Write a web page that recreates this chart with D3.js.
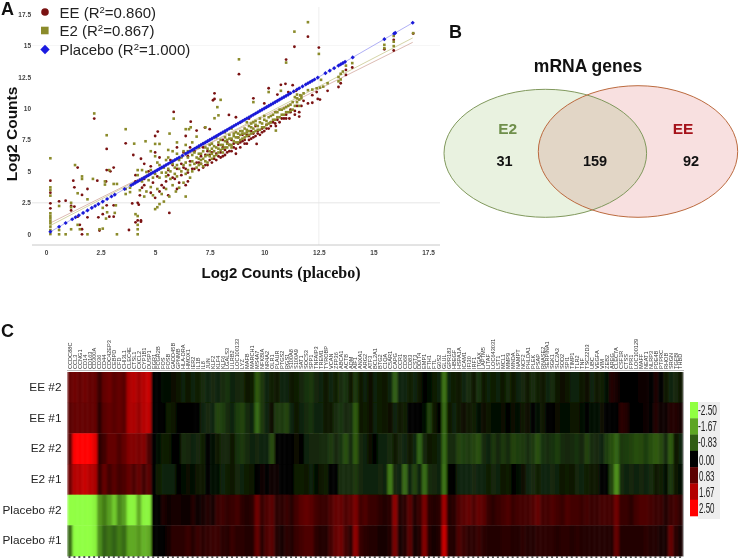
<!DOCTYPE html>
<html><head><meta charset="utf-8">
<script src="https://cdn.jsdelivr.net/npm/d3@7"></script>
<style>html,body{margin:0;background:#fff}svg{display:block;filter:blur(.3px)}text{font-family:"Liberation Sans",Arial,sans-serif}</style>
</head><body><svg id="c" width="739" height="558"></svg>
<script>
// ---------- Panel A data ----------
const scatterTicks=[0,2.5,5,7.5,10,12.5,15,17.5];
const placeboX=[.2,.6,.9,1.2,1.35,1.5,1.7,1.9,2.1,2.25,2.4,2.6,2.8,3,3.15,3.6,3.9,4,4.1,4.2,4.3,4.4,4.5,4.6,4.7,4.8,4.9,5,5.1,5.2,5.3,5.4,5.5,5.6,5.7,5.8,5.9,6,6.1,6.25,6.4,6.5,6.6,6.7,6.8,6.9,7,7.1,7.2,7.3,7.4,7.5,7.6,7.7,7.8,7.9,8,8.1,8.2,8.3,8.4,8.5,8.6,8.7,8.8,8.9,9,9.1,9.2,9.3,9.4,9.5,9.6,9.7,9.8,9.9,10,10.1,10.2,10.3,10.4,10.5,10.6,10.7,10.8,10.9,11,11.1,11.2,11.35,11.5,11.6,11.75,11.9,12,12.1,12.2,12.3,12.45,12.8,13,13.2,13.4,13.5,13.6,13.7,14.05,15.5,15.95,16,16.8];
const e2Points=[[.2,6.04],[.2,3.73],[.2,3.52],[.2,3.07],[.2,1.67],[.2,1.46],[.2,1.27],[.2,1.08],[.2,.87],[.2,.61],[.2,.34],[.2,.02],[.6,2.25],[.6,.34],[.6,0],[.9,0],[1.15,2.5],[1.15,2.15],[1.15,.4],[1.33,5.5],[1.45,3.26],[1.45,.75],[1.55,.4],[1.65,4.6],[1.65,4.4],[1.9,2.78],[1.9,0],[2.15,4.4],[2.7,4.2],[2.7,3.95],[2.45,.4],[2.6,.45],[2.6,2.1],[2.8,1.75],[2.75,1.25],[2.78,7.87],[2.9,5.1],[3.1,4],[3.25,4],[3.2,2.3],[3.15,1.7],[3.25,0],[2.21,9.6],[3.65,8.35],[3.65,3.6],[4.04,7.2],[3.85,3.7],[3.65,3.2],[3.85,3.35],[4.2,.4],[4.2,0],[4.2,.75],[4.1,1.6],[4.2,1.45],[4.56,7.39],[5,7.18],[5.2,7.18],[5.66,8],[5.85,9.19],[4.2,5.1],[4.4,5.1],[4.6,4.95],[4.8,5.1],[4.2,4.7],[5.1,5.7],[5,6.2],[4.8,6.6],[5,2],[5.2,2.4],[5.1,2.15],[5.4,2.6],[5.65,3],[5.95,3.4],[6.4,3],[4.6,3.4],[4.8,3.75],[5.2,4.5],[5.5,4.6],[5.7,5],[5.9,5.3],[6.1,5.2],[6.4,4.8],[5.2,5.5],[5.5,5.9],[5.6,6.1],[5.8,6.6],[6,6.4],[6.2,6.1],[6.4,8.35],[6.55,8.35],[6.63,8.5],[6.9,7.76],[6.4,7.1],[6.5,6.6],[6.7,5.8],[6.9,6.1],[7,6.4],[7.1,5.6],[7.2,6],[7.3,6.9],[7.4,6.3],[7.5,6.6],[7.6,6],[7.7,7],[7.72,9.22],[7.9,9.45],[8,10.68],[7.85,10.1],[7.9,6.8],[8,7.1],[8.1,6.5],[8.2,7.4],[8.3,6.9],[8.4,7.6],[8.5,7.1],[8.6,7.8],[8.7,7.3],[8.84,13.9],[8.8,8],[8.9,7.5],[9,8.2],[9.1,7.7],[9.2,8.3],[9.3,7.9],[9.4,8.5],[9.5,8.1],[9.5,10.5],[9.6,8.7],[9.7,8.3],[9.8,8.9],[9.9,8.5],[10,9.1],[10.1,8.7],[10.2,9.3],[10.2,11.3],[10.3,8.9],[10.4,9.5],[10.53,8.24],[10.5,9.1],[10.6,9.7],[10.7,9.3],[10.76,11.4],[10.8,9.9],[10.9,9.5],[11,10.1],[11,13.64],[11.1,9.7],[11.2,10.3],[11.3,9.9],[11.38,16.1],[11.4,10.9],[11.5,10.5],[11.5,11.1],[11.6,10.2],[11.7,10.8],[11.7,11],[11.8,11.2],[12,11.45],[12.2,11.5],[12.4,11.6],[12.55,11.65],[12.7,11.73],[12.6,12.27],[12.9,12],[13.4,12.5],[13.4,12.15],[13.5,12.3],[13.6,12.93],[13.5,12.75],[13.74,13.4],[14.03,13.6],[12.5,14.33],[12,16.85],[15.5,15.05],[15.5,14.78],[15.93,15.76],[15.93,15.3],[15.93,14.95],[16.82,15.98],[8.2,8.1],[8.5,8.4],[8.9,8.9],[9.2,8.9],[7.6,7.2],[7.2,7.2],[7.8,7.7],[6.7,7.3],[7.3,8.5]];
const e2Band=[[5.5,4.9],[5.6,5.2],[5.7,4.4],[5.8,5.6],[5.9,4.8],[6,5.5],[6,4.6],[6.1,5.9],[6.2,5],[6.3,5.5],[6.3,6.6],[6.4,5.7],[6.5,5.1],[6.5,6.1],[6.6,5.5],[6.7,6.3],[6.7,5],[6.8,5.6],[6.8,6.5],[6.9,5.3],[7,6],[7,5.5],[7,6.9],[7.1,6.4],[7.1,5.9],[7.2,6.6],[7.2,5.4],[7.3,6.2],[7.3,5.8],[7.4,6.8],[7.4,5.7],[7.5,7.1],[7.5,6.2],[7.6,6.8],[7.6,6.4],[7.7,6.2],[7.7,6.6],[7.8,6.9],[7.8,6.3],[7.9,7.3],[7.9,6.5],[8,6.7],[8,7.5],[8.1,7.1],[8.1,6.8],[8.2,6.9],[8.2,7.7],[8.3,7.5],[8.3,7.2],[8.4,7.1],[8.4,7.9],[8.5,7.6],[8.5,6.9],[8.6,7.4],[8.6,8],[8.7,7.7],[8.7,8.1],[8.8,7.3],[8.8,7.7],[8.9,8.2],[8.9,7.9],[9,7.6],[9,8],[9.1,8.4],[9.1,8],[9.2,7.8],[9.2,8.1],[9.3,8.6],[9.3,8.2],[9.4,8],[9.4,8.8],[9.5,8.4],[9.5,8.9],[9.6,8.2],[9.6,9],[9.7,8.6],[9.8,8.3],[9.8,9.2],[9.9,8.8],[10,8.5],[10,9.4],[10.1,9],[10.2,8.8],[10.3,9.4],[10.4,9.1],[10.5,9.7],[10.6,9.3],[10.7,9.9],[10.8,9.5],[10.9,10],[11,9.7],[11.1,10.2],[11.2,9.8],[11.3,10.5],[11.4,10.2],[11.5,10.8],[11.6,10.7],[11.65,11.05],[4.3,3.5],[4.4,4.2],[4.5,3],[4.7,4.3],[4.9,4.5],[4.9,3.1],[5,4.8],[5.1,3.6],[5.3,4.9],[5.3,3.2],[5.4,5.3],[5.5,3.6],[5.6,6.7],[5.8,3.9],[6,7.3],[6.1,3.7],[6.3,4.1],[6.6,4.5]];
const eePoints=[[.2,4.26],[.2,3.31],[.2,2.46],[.2,2.06],[.6,2.62],[.9,2.67],[1.15,2.25],[1.15,1.9],[1.25,4.26],[1.3,3.73],[1.3,2.2],[1.45,5.3],[1.45,1.4],[1.65,3.13],[1.65,0],[1.55,.75],[1.65,.4],[1.9,3.6],[1.9,1.35],[2.35,4.26],[2.4,1.35],[2.45,.3],[2.6,1.6],[2.78,2.3],[2.78,5.1],[2.78,6.78],[2.9,1.4],[2.75,4.2],[2.21,9.19],[3.1,5.3],[2.95,5],[3.1,2.3],[3.1,1.4],[3.65,7.23],[3.8,.34],[4.2,1.1],[4.35,1.1],[4.1,.95],[4.35,1],[4.0,6.3],[3.95,2.45],[4.2,2.5],[4.25,2.35],[4.35,6],[4.5,5.6],[4.8,5.4],[4.1,4.7],[4.1,4.2],[4.4,3.7],[4.8,3.3],[5,2.9],[4.5,4.4],[5,6.5],[5,7.81],[5.12,8.16],[5.2,6.1],[5.3,3.9],[5.5,4.2],[5.6,4.7],[5.65,1.7],[5.7,5.9],[5.85,9.72],[5.9,4.4],[6,6.9],[6.1,4.1],[6.2,5.6],[6.4,3.9],[6.4,5.2],[6.4,7.81],[6.5,6.2],[6.63,8.95],[6.7,5.2],[6.8,6.6],[6.9,8.24],[7,5.7],[7.1,6.2],[7.28,8.48],[7.3,5.5],[7.4,6.6],[7.5,8.35],[7.5,5.9],[7.6,6.5],[7.72,11.2],[7.72,10.75],[7.65,10.65],[7.8,6.4],[7.9,7.1],[8,6.1],[8.1,6.9],[8.2,6.3],[8.3,7.3],[8.38,9.48],[8.4,6.6],[8.5,7.5],[8.6,6.9],[8.7,9.3],[8.7,6.4],[8.84,12.72],[8.9,7.3],[9,7.9],[9.1,7.2],[9.2,7.9],[9.3,9.2],[9.3,7.5],[9.4,8.2],[9.5,10.8],[9.5,7.7],[9.65,7.18],[9.7,8],[9.9,8.1],[10,10.4],[10.1,8.4],[10.2,11.6],[10.3,8.6],[10.4,8.9],[10.53,8.6],[10.6,11.1],[10.7,8.9],[10.76,11.87],[10.9,9.2],[10.97,11.95],[11,9.5],[11,13.88],[11.1,11.3],[11.15,9.2],[11.2,9.7],[11.3,11.85],[11.38,14.9],[11.4,9.8],[11.45,11.4],[11.6,9.7],[11.6,9.35],[11.7,10.2],[11.8,10.6],[12,10.4],[12.2,11.05],[12.2,10.45],[12.4,11.3],[12.45,10.75],[12.55,10.7],[12.5,14.83],[12.9,11.4],[12,15.7],[13.4,11.7],[13.5,12],[13.74,13.06],[13.74,12.66],[14.03,13.25],[15.5,14.7],[15.93,14.6],[15.93,15.45],[16.82,15.95],[8.1,7.5],[8.8,7.7],[7.2,6.9],[6.6,6.9],[9.6,8.6]];
const eeBand=[[5.6,5.1],[5.8,4.5],[6,5.2],[6.2,4.7],[6.3,5.3],[6.5,4.9],[6.6,5.8],[6.8,5.2],[6.9,5.7],[7,5.1],[7.1,5.6],[7.2,5.3],[7.3,6.3],[7.4,5.5],[7.5,6.3],[7.6,5.7],[7.7,6],[7.8,5.9],[7.9,6.2],[8,6.5],[8.1,6.2],[8.2,6.7],[8.3,6.5],[8.4,7.1],[8.5,6.6],[8.6,7.2],[8.7,6.8],[8.8,7.2],[8.9,6.9],[9,7.4],[9.1,7.5],[9.2,7.2],[9.3,7.8],[9.4,7.6],[9.5,8],[9.6,7.8],[9.7,8.2],[9.8,7.9],[9.9,8.4],[10,8.2],[10.1,8.7],[10.2,8.4],[10.3,8.9],[10.5,8.8],[10.6,9.1],[10.8,9.2],[11,9.2],[11.2,9.9],[11.4,9.5],[11.5,10.2],[4.3,3.1],[4.5,3.9],[4.7,5],[4.9,4.1],[5.1,4.6],[5.2,3.4],[5.4,3.7],[5.6,3.1],[5.8,5.5],[6,3.6],[6.3,6.5],[6.5,4.2]];
const e2Trend=[[.2,.7],[16.8,15.6]];
const eeTrend=[[.2,.9],[16.8,15.25]];
const placeboTrend=[[.2,.2],[16.8,16.8]];
const scatterLegend=[["EE","0.860","#7a1212"],["E2","0.867","#8b8b2b"],["Placebo","1.000","#1a1ae0"]];
// ---------- Panel B data ----------
const vennCounts=[31,159,92];
// ---------- Panel C data ----------
const rowNames=["EE #2","EE #1","E2 #2","E2 #1","Placebo #2","Placebo #1"];
const geneNames="CCDC88C CCL3 CCNG1 CD14 CD163 CD300A CD36 CD44 CDC42EP3 CEBPD CFD CHI3L1 CLEC4E CTSL1 CXCL2 CYP1B1 DUSP1 EGR1 FCGR2B FOS FOSB GADD45B GPNMB HLA-DRA HMOX1 IER2 IL1B IL8 JUN KLF2 KLF4 KLF6 LGALS3 LILRB2 LOC100133 LYZ MAFB MARCH1 MS4A7 NFKBIA NR4A2 OLR1 PLAUR PTGS2 RGS1 S100A8 S100A9 SAT1 SOCS3 SPP1 TNFAIP3 TREM1 TYROBP VCAN ZFP36 ABCA1 ACTB ADM AIF1 ANXA1 ARG2 ATF3 BCL2A1 BTG2 C1QA C5AR1 CAPG CCR1 CD68 CD83 CST3 DDIT4 EMP1 FTH1 FTL G0S2 GLUL GPR183 HBEGF HSPA1A ICAM1 IFI30 IRF1 ITGAX LAPTM5 LITAF LOC643031 LST1 MCL1 MMP9 MNDA NAMPT NCF2 PHLDA1 PLEK PSAP RNASE2 SERPINA1 SGK1 SLC2A3 SOD2 SPI1 TIMP1 TLR2 TNF TSC22D3 UBC VEGFA VIM ZEB2 AREG CLEC7A CSF1R CTSS FPR1 LOC100129 MAFF NEAT1 NLRP3 PDE4B PTPRC RHOB SRGN TGFBI THBD".split(" ");
const colorStops=[-2.5,-1.67,-.83,0,.83,1.67,2.5];
const colorRange=["#90ff42","#5da522","#2f5c12","#000000","#5c0000","#b30000","#ff0000"];
const legendLabels=["-2.50","-1.67","-0.83","0.00","0.83","1.67","2.50"];
const rowEE2=[.9,1,.9,1,.9,.9,.5,.9,1,.8,.9,.8,1.6,1.7,1.5,1.7,1.9,
0,-.05,-.1,-.1,-.15,-.2,-.3,-.2,-.3,-.25,
-.4,-.3,-.35,-.3,-.4,-.45,-.3,-.35,-.4,-.2,
-.25,-.8,-.5,-.3,-.25,-.2,-.3,-.3,-.2,-.25,
-.35,-.45,-.5,-.35,-.3,-.2,-.3,-.25,-.4,-.45,
-.2,-.5,-.2,-.3,-.15,-.3,-.25,-.2,-.3,-.85,
-.3,-.3,-.25,-.3,-.2,0,-.1,-.25,-.3,-1.1,
-.3,-.25,-.2,-.3,-.4,-.2,-.45,-.2,-.3,-.25,
-.3,-.2,-.4,-.2,-.3,-.35,-.2,-.4,-.25,-.2,
-.3,-.4,-.2,-.15,-.2,-.3,-.3,-.2,-.15,-.3,
-.2,-.25,-.1,.3,.2,.05,.05,0,.05,.1,
.15,.05,.25,.05,-.2,-.3,-.35,-.2];
const rowEE1=[.8,.9,.9,.9,.9,.9,.4,.8,.9,.8,.9,.8,1.6,1.6,1.4,1.7,1.8,
0,0,-.05,-.25,-.2,-.05,-.05,0,0,0,
-.3,-.35,-.3,-.6,-.55,-.4,-.3,-.55,-.6,-.4,
-.3,-1,-.5,-.3,-.15,-.5,-.5,-.6,-.3,-.2,
-.3,-.4,-.45,-.3,-.3,-.2,-.2,-.4,-.45,-.35,
-.4,-.8,-.2,-.25,-.15,-.3,-.25,-.2,-.15,-.3,
-.2,-.25,0,0,0,-.1,-.6,-.2,-.05,-1,
-.2,-.3,-.2,-.15,-.2,-.25,-.1,-.15,-.2,-.1,
-.1,-.15,-.05,-.15,-.1,-.2,-.15,-.05,-.1,-.2,
-.05,-.05,-.15,-.1,-.1,-.2,-.2,-.1,-.05,-.1,
-.1,-.15,-.05,0,.05,.4,.3,.05,0,.05,
.1,.05,.3,.1,.1,.3,.3,.2];
const rowE22=[.8,2.5,2.5,2.5,2.5,2.2,.4,.6,.9,.9,.7,.9,1.2,1.2,1.1,1.2,.7,
-.05,-.1,-.25,-.25,-.05,-.05,-.4,-.35,-.3,-.35,
-.25,-.05,-.1,-.2,-.35,-.35,-.2,-.45,-.5,-.4,
-.3,-.35,-.3,-.3,-.65,0,0,-.05,0,-.15,
0,-.3,-.35,-.35,-.4,-.4,-.5,-.35,-.45,-.7,
-.4,-.8,-.35,-.3,-.15,0,-.3,-.3,-.4,-.2,
-.35,-.3,-.2,-.3,-.9,-.35,-.2,-.25,-.3,-1,
-.4,-.4,-.6,-.55,-.5,-.6,-.7,-.4,-.3,-.5,
-.35,-.5,-.4,-.6,-.55,-.5,-.4,-.5,-.7,-.45,
-.4,-.45,-.55,-.4,-.35,-.4,-.45,-.35,-.6,-.4,
-.35,-.3,-.55,-.7,-.9,-.5,-.55,-.6,-.7,-.65,
-.55,-.7,-.8,-.65,-.4,-.8,-.2,-.3];
const rowE21=[1,1.7,1.7,1.9,1.7,1.6,.5,.9,.6,.8,.6,.7,.9,.7,.9,.6,.8,
-.05,-.25,-.3,-.3,-.3,-.05,-.1,-.15,-.1,-.2,
-.2,-.05,-.1,-.1,-.3,-.25,-.2,-.35,-.3,-.25,
-.2,0,.1,.05,.1,.1,.05,0,0,-.25,
-.25,-.2,-.3,-.1,-.2,-.25,0,0,-.4,-.4,
-.4,-.5,-.35,-.3,-.3,-.3,-.35,-.3,-1.2,-.35,
-.3,-1,-.3,-.6,-.3,-1,-.4,-.35,-.3,-1.1,
0,-.05,-.3,-.3,-.3,-.35,-.3,-.3,-.25,-.35,
-.3,-.2,-.25,0,-.1,-.15,-.3,-.35,-.25,-.3,
-.3,-.35,-.3,-.2,-.25,-.2,-.35,-.3,-.25,-.2,
-.2,0,0,-.6,-1.4,-.4,-.3,-.35,-.3,-.35,
-.3,-.4,-.2,-.25,-.1,-.5,-.2,-.1];
const rowP2=[-2.5,-2.5,-2.5,-2.5,-2.5,-2.4,-1.5,-1.2,-1.6,-2,-1.3,-1.6,-2.4,-2.4,-1.7,-2.4,-2.4,
0,.05,.25,.1,.2,.2,.15,.1,.3,.1,
.2,.3,.2,.5,.55,.45,.5,.6,.4,.3,
.4,1,.5,.7,.8,.4,.4,.5,.35,.6,
.8,.9,.8,.6,.5,.5,.7,.9,.9,.7,
.8,1.1,.6,.7,.5,.5,.4,.3,.4,1.3,
.3,.4,.8,.3,.5,1.1,.4,.3,.4,1.5,
.3,.4,.7,.8,.9,.7,.9,.8,.5,.4,
.5,.6,.7,.5,.6,.6,.6,.7,.9,.6,
.6,.7,.6,.5,.7,.6,.6,.5,.6,.5,
.5,.6,.6,.6,1,.5,.5,.4,.6,.7,
.7,.6,.5,.5,.3,.5,.6,.4];
const rowP1=[-1,-2.5,-2.5,-2.5,-2.5,-2.4,-1.4,-.9,-1.1,-.9,-1.2,-1,-1.7,-1.7,-1.5,-1.8,-1.7,
0,0,0,.2,.4,.4,.4,.5,.35,.5,
.4,.45,.5,.5,.4,.35,.5,.4,.4,.3,
.3,.9,.4,.7,.8,.3,.2,.4,.3,.5,
.6,.7,.7,.4,.3,.3,.6,.9,1,.6,
.4,1.3,.5,.4,.3,.3,.2,.2,.3,1.1,
.2,.3,.8,.2,.3,1.2,.3,.2,.3,1.9,
.3,.3,.7,.5,.4,.4,.5,.4,.3,.3,
.3,.4,.4,.3,.3,.4,.3,.3,.4,.4,
.4,.4,.3,.4,.4,.3,.4,.3,.3,.3,
.3,.3,.3,.3,.9,.3,.3,.3,.3,.3,
.4,.3,.3,.2,.2,.9,.4,.2];
const heatRows=[rowEE2,rowEE1,rowE22,rowE21,rowP2,rowP1];

const svg=d3.select("#c");
const defs=svg.append("defs");
defs.append("filter").attr("id","soft").attr("x",0).attr("y",0).attr("width",1).attr("height",1)
  .append("feGaussianBlur").attr("stdDeviation","0.9 0.5");
const letter=(t,x,y)=>svg.append("text").attr("x",x).attr("y",y).attr("font-weight","bold").attr("font-size",18).attr("fill","#111").text(t);
letter("A",1,15);letter("B",449,38);letter("C",1,337);

// ===== Panel A =====
const x=d3.scaleLinear().domain([0,17.5]).range([46,428]);
const y=d3.scaleLinear().domain([0,17.5]).range([234.3,14]);
const gridX=[12.5], gridY=[2.5,15];
svg.append("g").selectAll("line").data(gridX).join("line").attr("x1",d=>x(d)).attr("x2",d=>x(d)).attr("y1",7).attr("y2",245).attr("stroke","#eeeeee").attr("stroke-width",1);
svg.append("g").selectAll("line").data(gridY).join("line").attr("x1",32).attr("x2",440).attr("y1",d=>y(d)).attr("y2",d=>y(d)).attr("stroke",d=>d===15?"#f6f6f6":"#e6e6e6");
svg.append("line").attr("x1",32).attr("x2",440).attr("y1",245).attr("y2",245).attr("stroke","#c8c8c8");
const axX=svg.append("g").attr("transform","translate(0,245)").call(d3.axisBottom(x).tickValues(scatterTicks).tickSize(0).tickPadding(5).tickFormat(d=>d));
const axY=svg.append("g").attr("transform","translate(32,0)").call(d3.axisLeft(y).tickValues(scatterTicks).tickSize(0).tickPadding(1).tickFormat(d=>d));
[axX,axY].forEach(a=>{a.select(".domain").remove();a.selectAll("text").attr("font-size",6.5).attr("font-weight","bold").attr("fill","#444").attr("font-family","Liberation Sans");});
const lineGen=d3.line().x(d=>x(d[0])).y(d=>y(d[1]));
svg.append("path").attr("d",lineGen(e2Trend)).attr("fill","none").attr("stroke","#c9c98f").attr("stroke-width",.8);
svg.append("path").attr("d",lineGen(eeTrend)).attr("fill","none").attr("stroke","#d3a9a0").attr("stroke-width",.8);
svg.append("g").selectAll("circle").data(eePoints.concat(eeBand)).join("circle").attr("cx",d=>x(d[0])).attr("cy",d=>y(d[1])).attr("r",1.4).attr("fill","#7a1212");
svg.append("g").selectAll("rect").data(e2Points.concat(e2Band)).join("rect").attr("x",d=>x(d[0])-1.3).attr("y",d=>y(d[1])-1.3).attr("width",2.6).attr("height",2.6).attr("fill","#8b8b2b");
svg.append("path").attr("d",lineGen(placeboTrend)).attr("fill","none").attr("stroke","#8c8cf0").attr("stroke-width",.7);
svg.append("g").selectAll("path").data(placeboX).join("path").attr("d",d3.symbol().type(d3.symbolSquare).size(8.5)).attr("transform",d=>`translate(${x(d)},${y(d)}) rotate(45)`).attr("fill","#1a1ad8");
// legend
const ly=[12,30.5,49.5];
const lg=svg.append("g");
lg.append("circle").attr("cx",45).attr("cy",ly[0]).attr("r",3.8).attr("fill",scatterLegend[0][2]);
lg.append("rect").attr("x",41).attr("y",ly[1]-3.8).attr("width",7.6).attr("height",7.6).attr("fill",scatterLegend[1][2]);
lg.append("path").attr("d",d3.symbol().type(d3.symbolSquare).size(44)).attr("transform",`translate(45,${ly[2]}) rotate(45)`).attr("fill",scatterLegend[2][2]);
scatterLegend.forEach((d,i)=>{
  const t=lg.append("text").attr("x",59.5).attr("y",ly[i]+5.5).attr("font-size",15).attr("fill","#222");
  t.append("tspan").text(d[0]+" (R");
  t.append("tspan").attr("font-size",9.5).attr("dy",-5).text("2");
  t.append("tspan").attr("dy",5).text("="+d[1]+")");
});
svg.append("text").attr("transform","translate(17,134) rotate(-90)").attr("text-anchor","middle").attr("font-weight","bold").attr("font-size",15.5).attr("fill","#111").text("Log2 Counts");
const xt=svg.append("text").attr("x",281).attr("y",278).attr("text-anchor","middle").attr("font-weight","bold").attr("font-size",15).attr("fill","#111");
xt.append("tspan").text("Log2 Counts ");
xt.append("tspan").attr("font-family","Liberation Serif").attr("font-size",16).text("(placebo)");

// ===== Panel B =====
const E2e={cx:545.3,cy:153.3,rx:101.3,ry:64},EEe={cx:638,cy:151.5,rx:99.7,ry:65.8};
const ell=(g,e)=>g.append("ellipse").attr("cx",e.cx).attr("cy",e.cy).attr("rx",e.rx).attr("ry",e.ry);
svg.append("clipPath").attr("id","ce2").call(g=>ell(g,E2e));
ell(svg,E2e).attr("fill","#e9f2e0");
ell(svg,EEe).attr("fill","#f8e0e0");
ell(svg,EEe).attr("fill","#e2d6c6").attr("clip-path","url(#ce2)");
ell(svg,E2e).attr("fill","none").attr("stroke","#80985c").attr("stroke-width",1);
ell(svg,EEe).attr("fill","none").attr("stroke","#bb6a3e").attr("stroke-width",1);
const vt=(t,xp,yp,fs,c)=>svg.append("text").attr("x",xp).attr("y",yp).attr("text-anchor","middle").attr("font-weight","bold").attr("font-size",fs).attr("fill",c).text(t);
vt("mRNA genes",588,72,17.5,"#111");
vt("E2",507.7,134,15.5,"#6f8f4b");
vt("EE",683,134,15.5,"#a5121a");
vt(vennCounts[0],504.6,166,14.5,"#111");
vt(vennCounts[1],595,166,14.5,"#111");
vt(vennCounts[2],691,166,14.5,"#111");

// ===== Panel C =====
const hx=d3.scaleBand().domain(d3.range(geneNames.length)).range([67.5,683]);
const hy=d3.scaleBand().domain(rowNames).range([372,556]);
const col=d3.scaleLinear().domain(colorStops).range(colorRange).clamp(true);
const heatG=svg.append("g").attr("filter","url(#soft)");
heatRows.forEach((r,ri)=>{
  heatG.append("g").selectAll("rect").data(r).join("rect")
   .attr("x",(d,i)=>hx(i)).attr("y",hy(rowNames[ri])).attr("width",hx.bandwidth()+.4).attr("height",hy.bandwidth()+.4).attr("fill",d=>col(d));
});
svg.append("line").attr("x1",683.5).attr("x2",683.5).attr("y1",372).attr("y2",556).attr("stroke","#aaa");
svg.append("line").attr("x1",67).attr("x2",684).attr("y1",370.5).attr("y2",370.5).attr("stroke","#bbb");
svg.append("g").selectAll("text").data(geneNames).join("text")
  .attr("transform",(d,i)=>`translate(${hx(i)+hx.bandwidth()/2+1.9},369) rotate(-90)`)
  .attr("font-size",5.6).attr("fill","#333").text(d=>d);
svg.append("g").selectAll("line").data(geneNames).join("line")
  .attr("x1",(d,i)=>hx(i)+2).attr("x2",(d,i)=>hx(i)+2).attr("y1",556).attr("y2",558).attr("stroke","#555").attr("stroke-width",2);
svg.append("g").selectAll("text").data(rowNames).join("text")
  .attr("x",61.5).attr("y",d=>hy(d)+hy.bandwidth()/2+3.5).attr("text-anchor","end").attr("font-size",11.8).attr("fill","#222").text(d=>d);
// colour legend
const lgY=d3.scaleBand().domain(legendLabels).range([402,516]);
svg.append("rect").attr("x",698).attr("y",402).attr("width",22).attr("height",117).attr("fill","#eeeeee");
svg.append("g").selectAll("rect").data(legendLabels).join("rect").attr("x",690).attr("width",8).attr("y",d=>lgY(d)).attr("height",lgY.bandwidth()+.3).attr("fill",(d,i)=>colorRange[i]);
svg.append("g").selectAll("text").data(legendLabels).join("text")
  .attr("x",d=>d[0]==="-"?698:699).attr("y",(d,i)=>lgY(d)+lgY.bandwidth()/2+5.5+(i<3?-1:0))
  .attr("font-size",14).attr("fill","#222").attr("textLength",d=>d[0]==="-"?19:15.5).attr("lengthAdjust","spacingAndGlyphs").text(d=>d);
</script></body></html>
